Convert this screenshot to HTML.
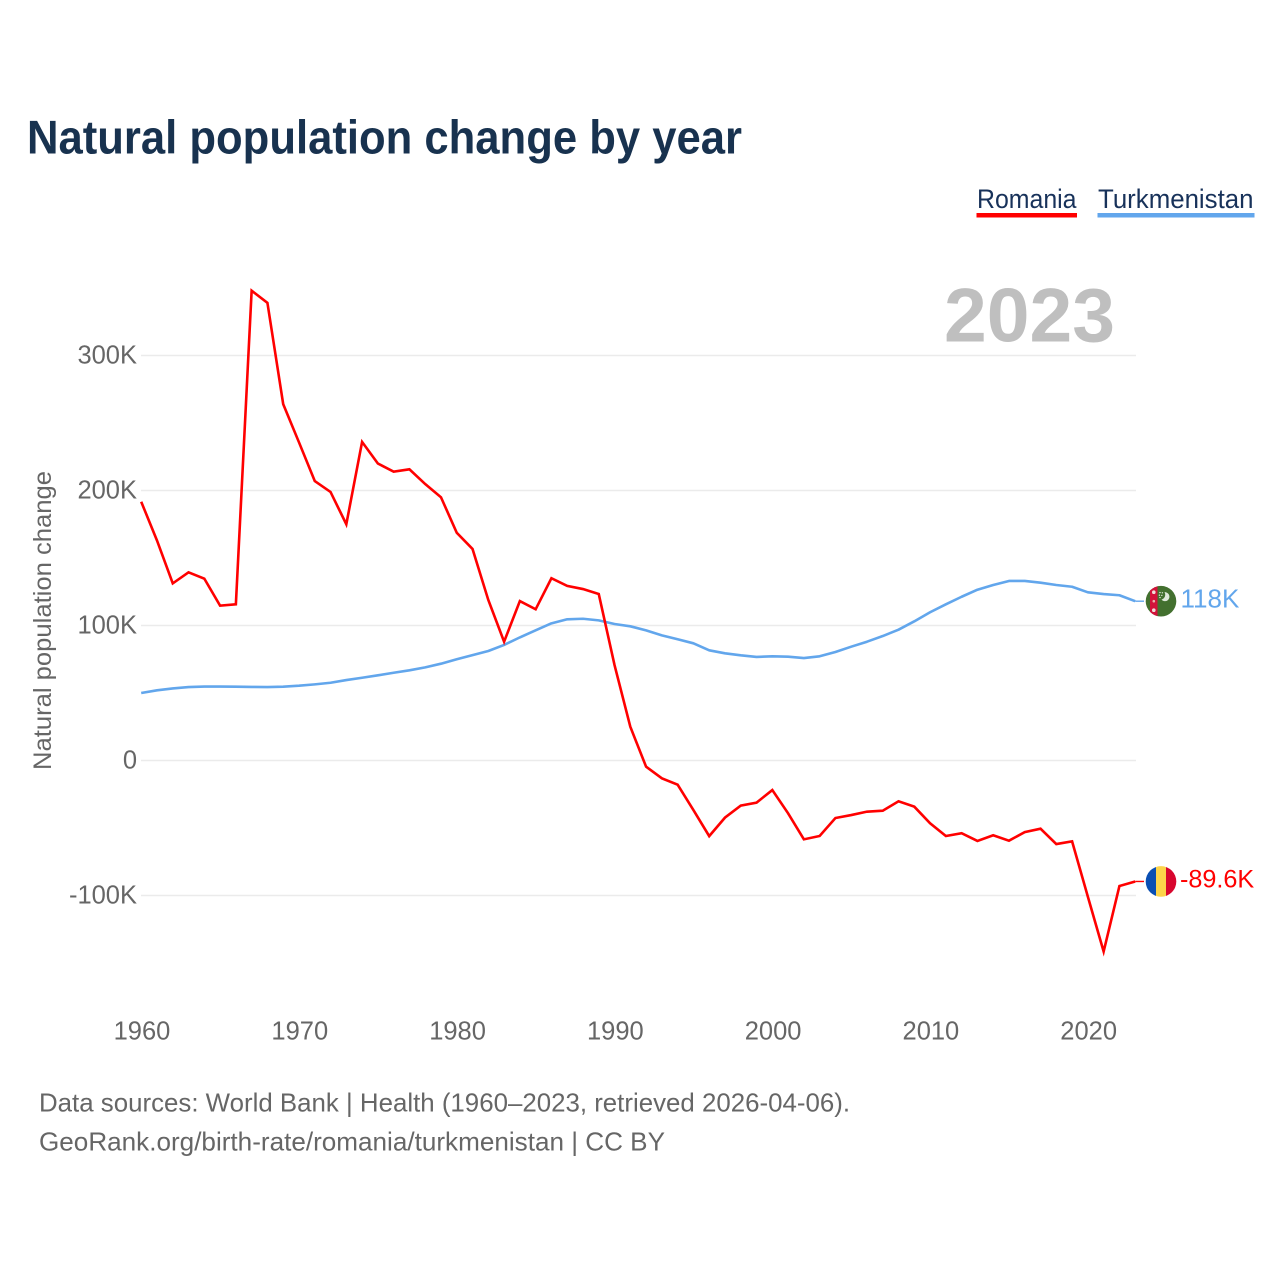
<!DOCTYPE html>
<html lang="en">
<head>
<meta charset="utf-8">
<title>Natural population change by year</title>
<style>
  html, body { margin: 0; padding: 0; background: #fff; }
  svg { display: block; font-family: "Liberation Sans", sans-serif; }
</style>
</head>
<body>
<svg id="chart" xmlns="http://www.w3.org/2000/svg" width="1280" height="1280" viewBox="0 0 1280 1280">
  <defs>
    <clipPath id="flag-clip-romania"><circle cx="0" cy="0" r="15.3"/></clipPath>
    <clipPath id="flag-clip-turkmenistan"><circle cx="0" cy="0" r="15.3"/></clipPath>
  </defs>
  <rect x="0" y="0" width="1280" height="1280" fill="#ffffff"/>
  <text x="27" y="153.5" font-size="47" font-weight="700" fill="#18324f" textLength="715" lengthAdjust="spacingAndGlyphs">Natural population change by year</text>

  <g>
    <text x="977" y="208" font-size="27" fill="#18325a" textLength="99.5" lengthAdjust="spacingAndGlyphs">Romania</text>
    <rect x="976.5" y="213" width="100.5" height="4.5" fill="#ff0000"/>
  </g>
  <g>
    <text x="1098" y="208" font-size="27" fill="#18325a" textLength="155.5" lengthAdjust="spacingAndGlyphs">Turkmenistan</text>
    <rect x="1097.5" y="213" width="157" height="4.5" fill="#62a6ec"/>
  </g>

  <text x="944" y="341.5" font-size="76" font-weight="700" fill="#bfbfbf" textLength="171" lengthAdjust="spacingAndGlyphs">2023</text>
  <text transform="translate(51,620.5) rotate(-90)" text-anchor="middle" font-size="25" fill="#666666" textLength="299" lengthAdjust="spacingAndGlyphs">Natural population change</text>

  <g id="grid"></g>
  <g id="y-ticks"></g>
  <g id="x-ticks"></g>
  <g id="series"></g>

  <g id="flag-turkmenistan">
    <g clip-path="url(#flag-clip-turkmenistan)">
      <rect x="-16" y="-16" width="32" height="32" fill="#43702f"/>
      <rect x="-11" y="-16" width="7.5" height="32" fill="#d2123a"/>
      <circle cx="-7.2" cy="-9" r="1.8" fill="#f0dcd8"/>
      <circle cx="-7.2" cy="0" r="1.3" fill="#e8b0a8"/>
      <circle cx="-7.2" cy="9" r="1.8" fill="#f0dcd8"/>
      <path d="M3.5,-9 A4.5,4.5 0 1 1 0.5,-1.6 A5,5 0 0 0 3.5,-9 Z" fill="#dfe8da"/>
      <circle cx="-1" cy="-8.6" r="0.7" fill="#dfe8da"/>
      <circle cx="1.4" cy="-8.4" r="0.7" fill="#dfe8da"/>
      <circle cx="-1.6" cy="-6" r="0.7" fill="#dfe8da"/>
      <circle cx="0.8" cy="-5.8" r="0.7" fill="#dfe8da"/>
      <circle cx="-1" cy="-3.6" r="0.7" fill="#dfe8da"/>
    </g>
  </g>
  <g id="flag-romania">
    <g clip-path="url(#flag-clip-romania)">
      <rect x="-16" y="-16" width="11" height="32" fill="#0a4fb3"/>
      <rect x="-5" y="-16" width="10" height="32" fill="#fcd44a"/>
      <rect x="5" y="-16" width="11" height="32" fill="#d8062e"/>
    </g>
  </g>

  <g>
    <text x="39" y="1111.5" font-size="26" fill="#666666" textLength="811" lengthAdjust="spacingAndGlyphs">Data sources: World Bank | Health (1960–2023, retrieved 2026-04-06).</text>
    <text x="39" y="1150.5" font-size="26" fill="#666666" textLength="626" lengthAdjust="spacingAndGlyphs">GeoRank.org/birth-rate/romania/turkmenistan | CC BY</text>
  </g>
</svg>
<script>
const years = [1960,1961,1962,1963,1964,1965,1966,1967,1968,1969,1970,1971,1972,1973,1974,1975,1976,1977,1978,1979,1980,1981,1982,1983,1984,1985,1986,1987,1988,1989,1990,1991,1992,1993,1994,1995,1996,1997,1998,1999,2000,2001,2002,2003,2004,2005,2006,2007,2008,2009,2010,2011,2012,2013,2014,2015,2016,2017,2018,2019,2020,2021,2022,2023];
const romaniaValues = [191.7,163,131.2,139.4,134.7,114.7,115.7,348,339,264,235.7,207,198.9,175,236,220,214,215.7,204.8,195,168.7,156.7,118.9,88,118.1,112,135,129.3,127,123.3,70.7,25,-4.6,-13.2,-17.9,-36.7,-56,-42.3,-33.4,-31.2,-21.9,-39.1,-58.4,-55.9,-42.6,-40.4,-37.9,-37.2,-30.2,-34.2,-46.5,-55.9,-53.9,-59.6,-55.4,-59.4,-53,-50.5,-61.9,-59.9,-100.9,-141.5,-93,-89.6];
const turkmenistanValues = [50,52,53.4,54.4,54.8,54.8,54.7,54.5,54.4,54.7,55.4,56.4,57.6,59.6,61.3,63.1,65,66.8,69,71.7,75,78.1,81.1,85.6,91.2,96.4,101.6,104.6,105,103.8,101.1,99.4,96.4,92.7,89.8,86.8,81.6,79.4,77.9,76.7,77.2,76.9,75.9,77.2,80.4,84.3,88,92.2,96.9,103.1,109.8,115.7,121.3,126.5,130,133,133,131.7,130,128.7,124.6,123.3,122.4,118];
const yTickValues = [300,200,100,0,-100];
const yTickLabels = ["300K","200K","100K","0","-100K"];
const xTickYears = [1960,1970,1980,1990,2000,2010,2020];

const SVG_NS = "http://www.w3.org/2000/svg";
function xScale(year) { return 141.2 + (year - 1960) * (994 / 63); }
function yScale(value) { return 760.5 - value * 1.35; }
function make(tag, attrs, parent) {
  const el = document.createElementNS(SVG_NS, tag);
  Object.keys(attrs).forEach(function (k) { el.setAttribute(k, attrs[k]); });
  parent.appendChild(el);
  return el;
}
function formatValue(v) { return (Math.abs(v) >= 100 ? Math.round(v) : v) + "K"; }

const gridGroup = document.getElementById("grid");
const yTickGroup = document.getElementById("y-ticks");
yTickValues.forEach(function (value, i) {
  const line = make("line", { x1: 141, x2: 1136, y1: yScale(value), y2: yScale(value), stroke: "#ebebeb", "stroke-width": 1.4 }, gridGroup);
  
  
  const label = make("text", { x: 137, y: yScale(value) + 7.8, "text-anchor": "end", "font-size": 25.5, fill: "#666666" }, yTickGroup);
  label.textContent = yTickLabels[i];
  
  
});

const xTickGroup = document.getElementById("x-ticks");
xTickYears.forEach(function (year) {
  const label = make("text", { x: xScale(year) + 0.8, y: 1039.5, "text-anchor": "middle", "font-size": 25.5, fill: "#666666" }, xTickGroup);
  label.textContent = String(year);
  
  
});

const seriesGroup = document.getElementById("series");
function linePoints(values) {
  return values.map(function (v, i) { return xScale(years[i]).toFixed(2) + "," + yScale(v).toFixed(2); }).join(" ");
}

const turkmenistanLine = make("polyline", { points: linePoints(turkmenistanValues), fill: "none", stroke: "#62a6ec", "stroke-width": 2.6, "stroke-linejoin": "round" }, seriesGroup);



const romaniaLine = make("polyline", { points: linePoints(romaniaValues), fill: "none", stroke: "#ff0000", "stroke-width": 2.6, "stroke-linejoin": "miter" }, seriesGroup);



const lastIndex = years.length - 1;
const endX = xScale(years[lastIndex]);

const turkmenistanEndY = yScale(turkmenistanValues[lastIndex]);
const turkmenistanConnector = make("line", { x1: endX, x2: 1144, y1: turkmenistanEndY, y2: turkmenistanEndY, stroke: "#62a6ec", "stroke-width": 1.4 }, seriesGroup);


const turkmenistanLabel = make("text", { x: 1180.5, y: turkmenistanEndY + 6.2, "font-size": 26, fill: "#62a6ec" }, seriesGroup);
turkmenistanLabel.textContent = formatValue(turkmenistanValues[lastIndex]);


document.getElementById("flag-turkmenistan").setAttribute("transform", "translate(1161," + turkmenistanEndY + ")");

const romaniaEndY = yScale(romaniaValues[lastIndex]);
const romaniaConnector = make("line", { x1: endX, x2: 1144, y1: romaniaEndY, y2: romaniaEndY, stroke: "#ff0000", "stroke-width": 1.4 }, seriesGroup);


const romaniaLabel = make("text", { x: 1180, y: romaniaEndY + 6.2, "font-size": 25.2, fill: "#ff0000" }, seriesGroup);
romaniaLabel.textContent = formatValue(romaniaValues[lastIndex]);


document.getElementById("flag-romania").setAttribute("transform", "translate(1161," + romaniaEndY + ")");
</script>
</body>
</html>
